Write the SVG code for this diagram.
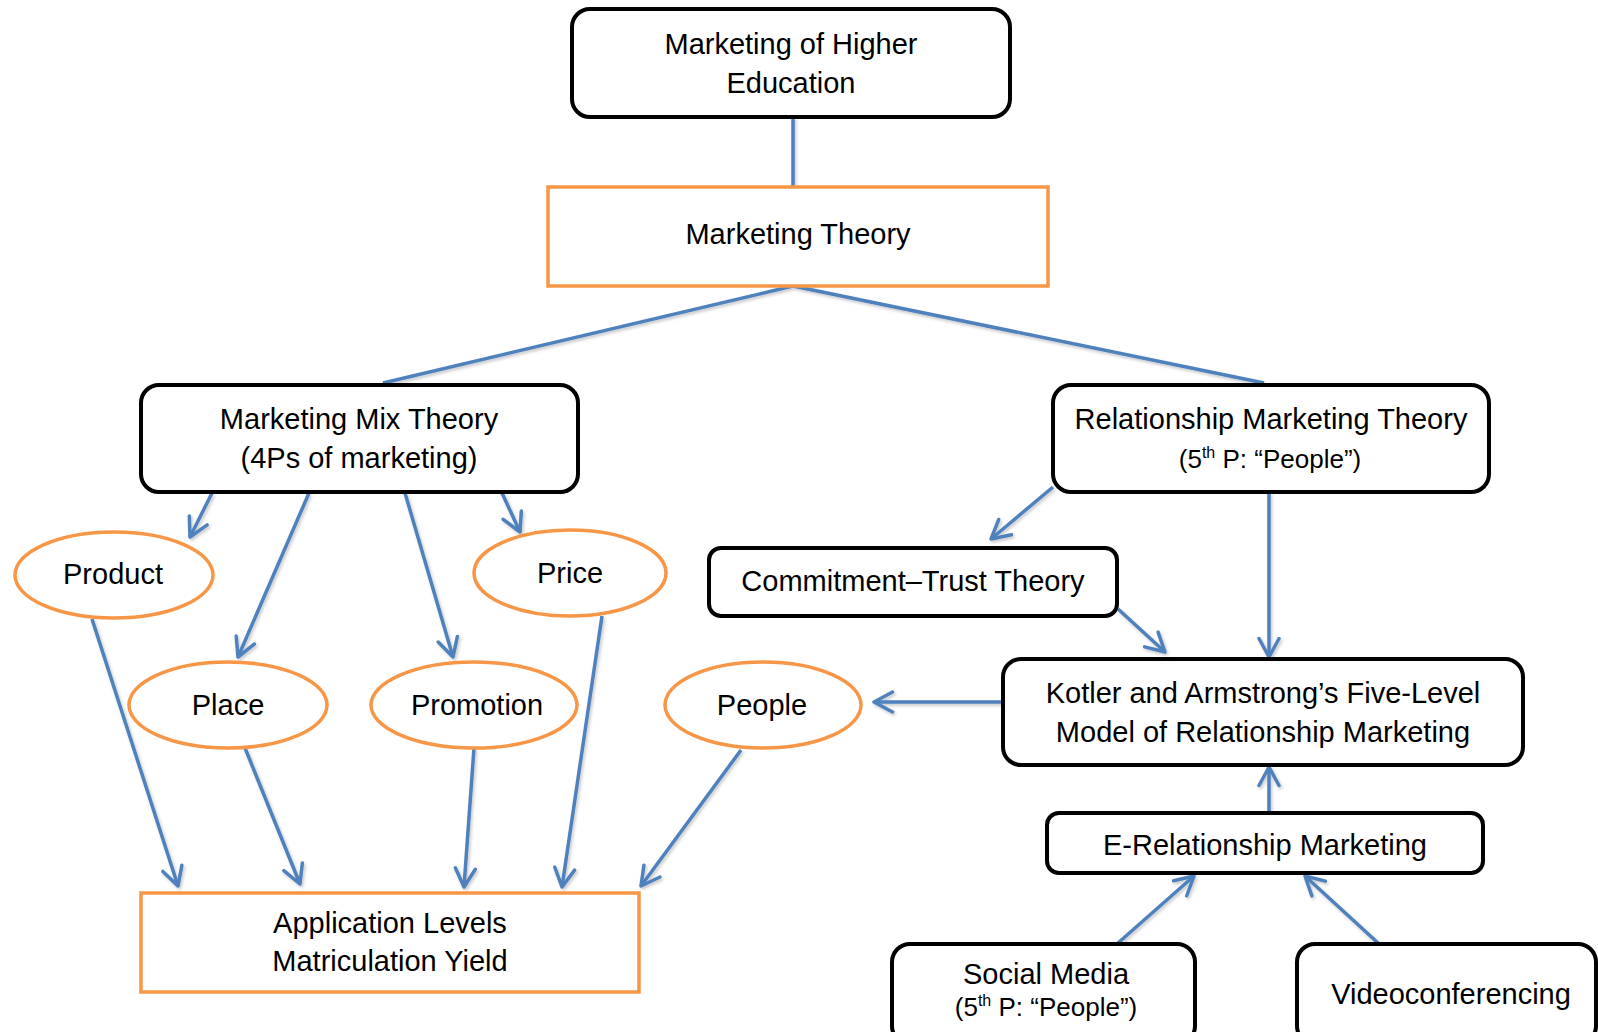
<svg xmlns="http://www.w3.org/2000/svg" width="1598" height="1032" viewBox="0 0 1598 1032">
<style>
.bk{fill:#fff;stroke:#000;stroke-width:4}
.or{fill:#fff;stroke:#F79646;stroke-width:3.5}
text{font-family:"Liberation Sans",Arial,sans-serif;font-size:29px;fill:#000;text-anchor:middle}
.sm{font-size:26px}
.sup{font-size:16px}
.c{filter:url(#sh)}
.c line{stroke:#4F81BD;stroke-width:3.5;fill:none}
.a{marker-end:url(#ah)}
</style>
<defs>
<filter id="sh" x="-20%" y="-20%" width="140%" height="140%">
<feDropShadow dx="1.5" dy="2" stdDeviation="1.5" flood-color="#000" flood-opacity="0.22"/>
</filter>
<marker id="ah" viewBox="0 0 23 24" refX="20.5" refY="12" markerWidth="23" markerHeight="24" markerUnits="userSpaceOnUse" orient="auto">
<path d="M2,2 L20.5,12 L2,22" fill="none" stroke="#4F81BD" stroke-width="3.5" stroke-linecap="round" stroke-linejoin="round"/>
</marker>
</defs>
<rect width="1598" height="1032" fill="#fff"/>
<g class="c">
<line x1="793" y1="117" x2="793" y2="188"/>
<line x1="793" y1="286" x2="383" y2="383"/>
<line x1="793" y1="286" x2="1264" y2="383"/>
<line class="a" x1="212" y1="493" x2="190" y2="537"/>
<line class="a" x1="309" y1="493" x2="238" y2="657"/>
<line class="a" x1="405" y1="493" x2="453" y2="657"/>
<line class="a" x1="502" y1="493" x2="520" y2="532"/>
<line class="a" x1="92" y1="619" x2="178" y2="886"/>
<line class="a" x1="245" y1="748" x2="300" y2="884"/>
<line class="a" x1="474" y1="748" x2="464" y2="887"/>
<line class="a" x1="602" y1="616" x2="562" y2="887"/>
<line class="a" x1="741" y1="750" x2="641" y2="886"/>
<line class="a" x1="1053" y1="487" x2="991" y2="539"/>
<line class="a" x1="1269" y1="492" x2="1269" y2="657"/>
<line class="a" x1="1118" y1="609" x2="1165" y2="652"/>
<line class="a" x1="1003" y1="702" x2="874" y2="702"/>
<line class="a" x1="1269" y1="813" x2="1269" y2="767"/>
<line class="a" x1="1118" y1="943" x2="1194" y2="876"/>
<line class="a" x1="1378" y1="943" x2="1305" y2="876"/>
</g>
<g id="n-higher-ed"><rect class="bk" x="572" y="9" width="438" height="108" rx="18"/><text x="791" y="54">Marketing of Higher</text><text x="791" y="93">Education</text></g>
<g id="n-marketing-theory"><rect class="or" x="548" y="187" width="500" height="99"/><text x="798" y="244">Marketing Theory</text></g>
<g id="n-mix"><rect class="bk" x="141" y="385" width="437" height="107" rx="18"/><text x="359" y="429">Marketing Mix Theory</text><text x="359" y="468">(4Ps of marketing)</text></g>
<g id="n-rel"><rect class="bk" x="1053" y="385" width="436" height="107" rx="18"/><text x="1271" y="429">Relationship Marketing Theory</text><text class="sm" x="1270" y="468">(5<tspan class="sup" dy="-10">th</tspan><tspan dy="10"> P: “People”)</tspan></text></g>
<g id="n-product"><ellipse class="or" cx="114" cy="575" rx="99" ry="43"/><text x="113" y="584">Product</text></g>
<g id="n-price"><ellipse class="or" cx="570" cy="573" rx="96" ry="43"/><text x="570" y="583">Price</text></g>
<g id="n-place"><ellipse class="or" cx="228" cy="705" rx="99" ry="43"/><text x="228" y="715">Place</text></g>
<g id="n-promotion"><ellipse class="or" cx="474" cy="705" rx="103" ry="43"/><text x="477" y="715">Promotion</text></g>
<g id="n-people"><ellipse class="or" cx="763" cy="705" rx="98" ry="43"/><text x="762" y="715">People</text></g>
<g id="n-commit"><rect class="bk" x="709" y="548" width="408" height="68" rx="12"/><text x="913" y="591">Commitment–Trust Theory</text></g>
<g id="n-kotler"><rect class="bk" x="1003" y="659" width="520" height="106" rx="18"/><text x="1263" y="703">Kotler and Armstrong’s Five-Level</text><text x="1263" y="742">Model of Relationship Marketing</text></g>
<g id="n-erel"><rect class="bk" x="1047" y="813" width="436" height="60" rx="12"/><text x="1265" y="855">E-Relationship Marketing</text></g>
<g id="n-social"><rect class="bk" x="892" y="944" width="303" height="100" rx="18"/><text x="1046" y="984">Social Media</text><text class="sm" x="1046" y="1016">(5<tspan class="sup" dy="-10">th</tspan><tspan dy="10"> P: “People”)</tspan></text></g>
<g id="n-video"><rect class="bk" x="1297" y="944" width="299" height="100" rx="18"/><text x="1451" y="1004">Videoconferencing</text></g>
<g id="n-app"><rect class="or" x="141" y="893" width="498" height="99"/><text x="390" y="933">Application Levels</text><text x="390" y="971">Matriculation Yield</text></g>
</svg>
